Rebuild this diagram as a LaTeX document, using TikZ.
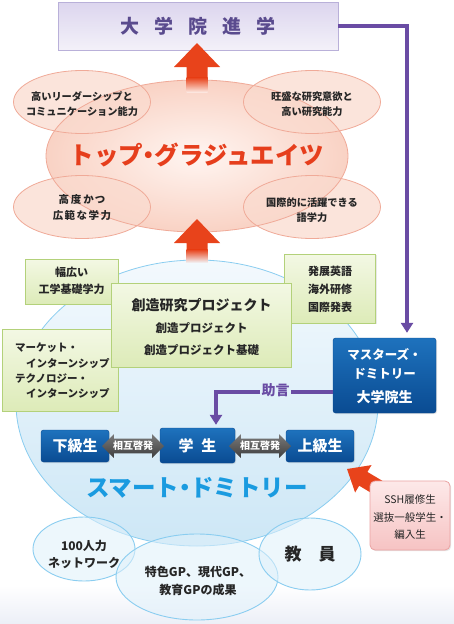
\documentclass[tikz,border=0pt]{standalone}
\usepackage{fontspec}
\setmainfont{Noto Sans CJK JP}
\usetikzlibrary{arrows.meta,shapes.geometric,shapes.arrows,shadows}
\definecolor{purT}{HTML}{5A4B8E}
\definecolor{purL}{HTML}{6A4CA4}
\definecolor{boxE}{HTML}{B9B0D9}
\definecolor{boxT}{HTML}{DCD5EE}
\definecolor{boxB}{HTML}{F3F1F9}
\definecolor{redA}{HTML}{E8431B}
\definecolor{pinkO}{HTML}{F9D2C4}
\definecolor{pinkI}{HTML}{FFF5F1}
\definecolor{pinkE}{HTML}{F0AA98}
\definecolor{pinkS}{HTML}{FADBCF}
\definecolor{redT}{HTML}{E63E1C}
\definecolor{bluE}{HTML}{8ACDF0}
\definecolor{bluT}{HTML}{F3F9FD}
\definecolor{bluB}{HTML}{CDE7F6}
\definecolor{bluS}{HTML}{E0F1FB}
\definecolor{grnE}{HTML}{B3D17A}
\definecolor{grnT}{HTML}{F3F8E4}
\definecolor{grnB}{HTML}{DDEBB8}
\definecolor{navT}{HTML}{1E72BD}
\definecolor{navB}{HTML}{0A4B92}
\definecolor{skyT}{HTML}{1A9BE0}
\definecolor{gryT}{HTML}{7A7A7A}
\definecolor{gryB}{HTML}{3E3E3E}
\definecolor{sshE}{HTML}{EBA3A3}
\definecolor{sshT}{HTML}{FDE9E9}
\definecolor{sshB}{HTML}{F6C3C3}
\definecolor{txt}{HTML}{262626}
\definecolor{bgB}{HTML}{ECEFF7}
\newcommand{\nd}{\kern-0.27em・\kern-0.27em}
\begin{document}
\begin{tikzpicture}[x=1pt,y=-1pt,
  smallell/.style={ellipse,draw=pinkE,line width=0.8pt,fill=pinkS,fill opacity=0.75,text opacity=1,
    text=txt,inner sep=0,minimum width=137pt,minimum height=63pt,align=center,
    font=\bfseries\fontsize{10}{14}\selectfont},
  greenbox/.style={draw=grnE,line width=0.8pt,top color=grnT,bottom color=grnB,inner sep=0,
    drop shadow={opacity=0.18,shadow xshift=1.2pt,shadow yshift=-1.2pt}},
  gtext/.style={text=txt,inner sep=0,align=center},
  navybox/.style={rounded corners=2.5pt,top color=navT,bottom color=navB,draw=navB,inner sep=0,
    text=white,font=\bfseries\fontsize{15}{18}\selectfont,
    drop shadow={opacity=0.2,shadow xshift=1pt,shadow yshift=-1pt}},
  mutual/.style={double arrow,double arrow head extend=4.5pt,minimum height=62pt,inner xsep=0pt,
    inner ysep=2.5pt,top color=gryT,bottom color=gryB,text=white,
    font=\bfseries\fontsize{10}{11}\selectfont},
  botell/.style={ellipse,draw=bluE,line width=0.9pt,fill=bluS,fill opacity=0.55,text opacity=1,
    text=txt,inner sep=0,align=center,font=\bfseries\fontsize{12}{17}\selectfont},
  purline/.style={draw=purL,line width=3.5pt,-{Triangle[width=12pt,length=10pt]}}
]
\useasboundingbox (0,0) rectangle (454,624);
\fill[white] (0,0) rectangle (454,624);
\shade[top color=white,bottom color=bgB] (0,585) rectangle (454,624);

% ---- smart dormitory sphere
\node[ellipse,draw=bluE,line width=0.8pt,top color=bluT,bottom color=bluB,inner sep=0,
  minimum width=362pt,minimum height=286pt] (dorm) at (197,403) {};

% ---- bottom ellipses
\node[botell,minimum width=102pt,minimum height=64pt] (net) at (84,549) {};
\node[botell,minimum width=162pt,minimum height=86pt] (gp) at (197,577) {};
\node[botell,minimum width=102pt,minimum height=72pt] (fac) at (310,554) {};
\node[gtext,font=\bfseries\fontsize{12}{17}\selectfont] (nett) at (84,554.5) {100人力\\ネットワーク};
\node[gtext,font=\bfseries\fontsize{12}{18}\selectfont] (gpt) at (198,581) {特色GP、現代GP、\\教育GPの成果};
\node[gtext,font=\bfseries\fontsize{17}{20}\selectfont] (fact) at (310,554) {教\hspace{17pt}員};

% ---- top graduates group
\node[ellipse,inner sep=0,minimum width=302pt,minimum height=152pt,inner color=pinkI,outer color=pinkO] (topg) at (197,156) {};
\node[smallell] (e1) at (82,102) {};
\node[smallell] (e2) at (312,102) {};
\node[smallell] (e3) at (82,207) {};
\node[smallell] (e4) at (312,207) {};
\node[ellipse,draw=pinkE,line width=0.8pt,inner sep=0,minimum width=302pt,minimum height=152pt] (topgl) at (197,156) {};
\node[gtext,font=\bfseries\fontsize{10.2}{14.5}\selectfont] (e1t) at (82,104) {高いリーダーシップと\\コミュニケーション能力};
\node[gtext,font=\bfseries\fontsize{10.2}{14.5}\selectfont] (e2t) at (312,104) {旺盛な研究意欲と\\高い研究能力};
\node[gtext,font=\bfseries\fontsize{10.5}{15.5}\selectfont] (e3t) at (82,207.5) {高\hspace{2pt}度\hspace{2pt}か\hspace{1pt}つ\\広\hspace{1.5pt}範\hspace{1.5pt}な\hspace{1.5pt}学\hspace{1.5pt}力};
\node[gtext,font=\bfseries\fontsize{10.2}{15}\selectfont] (e4t) at (312,210.5) {国際的に活躍できる\\語学力};
\node[inner sep=0,text=redT,font=\bfseries\fontsize{24.5}{28}\selectfont] (topt) at (197,155) {トップ\nd グラジュエイツ};

% ---- graduate school box
\node[draw=boxE,line width=0.9pt,top color=boxT,bottom color=boxB,minimum width=280pt,minimum height=48pt,inner sep=0,
  text=purT,font=\bfseries\fontsize{19}{22}\selectfont] (grad) at (198,26)
  {大\hspace{15pt}学\hspace{15pt}院\hspace{15pt}進\hspace{15pt}学};

% ---- red arrows up
\fill[redA] (197,43) -- (220,67) -- (207.5,67) -- (207.5,78) -- (186.5,78) -- (186.5,67) -- (174,67) -- cycle;
\shade[top color=redA,bottom color=pinkO!55!white] (186.5,77.6) rectangle (207.5,92);
\fill[redA] (197,219) -- (220,243) -- (207.5,243) -- (207.5,250) -- (186.5,250) -- (186.5,243) -- (174,243) -- cycle;
\shade[top color=redA,bottom color=bluT] (186.5,249.6) rectangle (207.5,263);

% ---- green boxes
\node[greenbox,minimum width=93pt,minimum height=45pt] (basic) at (71.5,281.5) {};
\node[gtext,font=\bfseries\fontsize{11}{17}\selectfont] (basict) at (71.5,280.5) {幅広い\\工学基礎学力};
\node[greenbox,minimum width=91pt,minimum height=69pt] (eng) at (330,288.5) {};
\node[gtext,font=\bfseries\fontsize{11}{18}\selectfont] (engt) at (330,289) {発展英語\\海外研修\\国際発表};
\node[greenbox,minimum width=116pt,minimum height=82pt] (intern) at (60,370) {};
\node[gtext,anchor=west,font=\bfseries\fontsize{10.5}{12}\selectfont] (in1) at (15,348) {マーケット・};
\node[gtext,anchor=west,font=\bfseries\fontsize{10.5}{12}\selectfont] (in2) at (26,363) {インターンシップ};
\node[gtext,anchor=west,font=\bfseries\fontsize{10.5}{12}\selectfont] (in3) at (15,378) {テクノロジー・};
\node[gtext,anchor=west,font=\bfseries\fontsize{10.5}{12}\selectfont] (in4) at (26,393) {インターンシップ};
\node[greenbox,minimum width=180pt,minimum height=84pt] (proj) at (201,325) {};
\node[gtext,font=\bfseries\fontsize{14}{16}\selectfont] (projt) at (201.5,305) {創造研究プロジェクト};
\node[gtext,font=\bfseries\fontsize{11.5}{13}\selectfont] (proj1) at (201.5,328) {創造プロジェクト};
\node[gtext,font=\bfseries\fontsize{11.5}{13}\selectfont] (proj2) at (201.5,350) {創造プロジェクト基礎};

% ---- masters dormitory box
\node[navybox,minimum width=103pt,minimum height=75pt] (mast) at (384.5,375.5) {};
\node[gtext,text=white,font=\bfseries\fontsize{12.5}{19}\selectfont] (mastt) at (384.5,363.5) {マスターズ・\\ドミトリー};
\node[gtext,text=white,font=\bfseries\fontsize{14}{16}\selectfont] (mast2) at (384.5,397) {大学院生};

% ---- students
\node[navybox,minimum width=68pt,minimum height=32pt] (low) at (75,446) {下級生};
\node[navybox,minimum width=75pt,minimum height=35pt] (stu) at (197.5,445.5) {学\hspace{8pt}生};
\node[navybox,minimum width=68pt,minimum height=32pt] (up) at (320,446) {上級生};
\node[mutual] (mx1) at (133,446) {相互啓発};
\node[mutual] (mx2) at (260,446) {相互啓発};

% ---- smart dormitory label
\node[inner sep=0,text=skyT,font=\bfseries\fontsize{23.5}{26}\selectfont] (dormt) at (197,488) {スマート\nd ドミトリー};

% ---- SSH arrow and box
\fill[redA] (347,469) -- (371.5,465.1) -- (367.4,471.9) -- (394.0,487.8) -- (385.8,501.6) -- (359.2,485.7) -- (355.1,492.5) -- cycle;
\node[rounded corners=5pt,draw=sshE,line width=0.8pt,top color=sshT,bottom color=sshB,minimum width=80pt,minimum height=69pt,inner sep=0,
  drop shadow={opacity=0.2,shadow xshift=1.2pt,shadow yshift=-1.2pt}] (ssh) at (410,515.5) {};
\node[gtext,font=\fontsize{10.5}{17.5}\selectfont] (ssht) at (410,517) {SSH履修生\\選抜一般学生・\\編入生};

% ---- purple connectors
\draw[purline,shorten >=5pt] (grad.east) -| ([xshift=22.5pt]mast.north);
\draw[purline,shorten >=3pt] ([yshift=-16.5pt]mast.west) -| ([xshift=18.5pt]stu.north);
\node[inner xsep=1.5pt,inner ysep=1pt,fill=bluT!55!bluB,text=purL,font=\bfseries\fontsize{14}{16}\selectfont] (adv) at (275.5,390.5) {助言};
\end{tikzpicture}
\end{document}
